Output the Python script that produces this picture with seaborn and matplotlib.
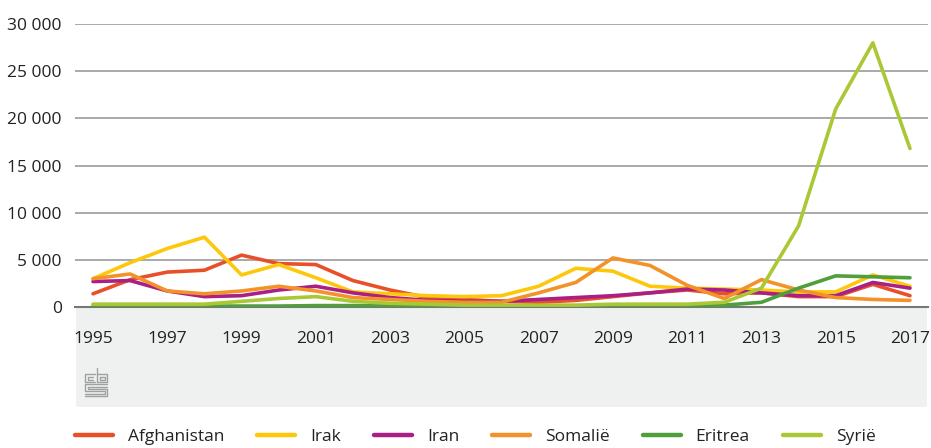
import pandas as pd
import matplotlib.pyplot as plt
import seaborn as sns
import numpy as np
from matplotlib.patches import FancyBboxPatch
from matplotlib.lines import Line2D
from matplotlib.ticker import FuncFormatter

# data (asielaanvragen per land)
years = list(range(1995, 2018))
afghanistan = [1400, 2900, 3700, 3900, 5500, 4600, 4500, 2800, 1800, 1000, 800, 600,
               500, 700, 1100, 1500, 1800, 1400, 1500, 1100, 1100, 2400, 1200]
irak = [3000, 4700, 6200, 7400, 3400, 4500, 3100, 1600, 1400, 1200, 1100, 1200,
        2200, 4100, 3800, 2200, 2000, 1900, 1800, 1600, 1600, 3400, 2200]
iran = [2700, 2800, 1700, 1100, 1200, 1800, 2200, 1500, 1000, 700, 600, 600,
        800, 1000, 1200, 1500, 1900, 1800, 1500, 1200, 1200, 2600, 2000]
somalie = [3000, 3500, 1700, 1400, 1700, 2200, 1700, 1000, 800, 600, 500, 500,
           1500, 2600, 5200, 4400, 2300, 900, 2900, 1800, 1000, 800, 700]
eritrea = [100, 100, 100, 100, 100, 100, 150, 150, 100, 100, 100, 100,
           100, 100, 100, 100, 100, 200, 500, 2000, 3300, 3200, 3100]
syrie = [300, 300, 300, 300, 600, 900, 1100, 600, 400, 300, 200, 200,
         200, 200, 300, 300, 300, 500, 2000, 8600, 21000, 28000, 16800]

landen = ['Afghanistan', 'Irak', 'Iran', 'Somalië', 'Eritrea', 'Syrië']
kleuren = ['#e8502a', '#fdc80c', '#aa1f86', '#f39228', '#4fa03c', '#aac836']

series = [afghanistan, irak, iran, somalie, eritrea, syrie]
df = pd.concat([pd.DataFrame({'jaar': years, 'aantal': s, 'land': n})
                for s, n in zip(series, landen)])

sns.set_style('white')
plt.rcParams['font.family'] = ['Open Sans', 'DejaVu Sans']

W, H = 931, 448
fig = plt.figure(figsize=(W / 100, H / 100), dpi=100)

def fx(px):
    return px / W

def fy(py):
    return 1 - py / H

ax = fig.add_axes([fx(75), fy(307), fx(928) - fx(75), fy(24) - fy(307)])

# grijs vlak onder de as
panel = FancyBboxPatch((fx(76), fy(407)), fx(927) - fx(76), fy(296) - fy(407),
                       boxstyle='round,pad=0,rounding_size=0.004',
                       transform=fig.transFigure, facecolor='#eff0f0',
                       edgecolor='none', zorder=-5)
fig.patches.append(panel)
ax.set_facecolor('white')

sns.lineplot(data=df, x='jaar', y='aantal', hue='land', hue_order=landen,
             palette=kleuren, linewidth=2.6, ax=ax, legend=False)

ax.set_xlim(1994.515, 2017.485)
ax.set_ylim(0, 30000)
ax.set_yticks(range(0, 30001, 5000))
ax.yaxis.set_major_formatter(FuncFormatter(lambda v, p: f'{int(v):,}'.replace(',', ' ')))
ax.set_xticks(range(1995, 2018, 2))
ax.grid(axis='y', color='#a3a3a3', linewidth=1.3)
ax.grid(axis='x', visible=False)
ax.set_axisbelow(True)
for s in ['top', 'right', 'left']:
    ax.spines[s].set_visible(False)
ax.spines['bottom'].set_color('#777777')
ax.spines['bottom'].set_linewidth(1.5)
ax.spines['bottom'].set_zorder(1.5)
ax.tick_params(axis='y', length=0, pad=9.5, labelsize=12.5, labelcolor='#222222')
ax.tick_params(axis='x', length=10, width=1, color='#cccccc', pad=7.5,
               labelsize=12.5, labelcolor='#222222')
ax.set_xlabel('')
ax.set_ylabel('')

# cbs-logo (eenvoudig nagetekend)
logo = [
    [(95, 374), (85, 374), (85, 382), (95, 382)],
    [(93, 376.5), (87.5, 376.5), (87.5, 379.5), (93, 379.5)],
    [(97, 368), (97, 382), (107, 382), (107, 374), (97, 374)],
    [(99.5, 376.5), (104.5, 376.5), (104.5, 379.5), (99.5, 379.5), (99.5, 376.5)],
    [(107, 384), (85, 384), (85, 391), (104.5, 391), (104.5, 393.5), (85, 393.5)],
    [(107, 386.5), (87.5, 386.5), (87.5, 388.5), (107, 388.5), (107, 396), (85, 396)],
]
for pts in logo:
    xs = [fx(p[0]) for p in pts]
    ys = [fy(p[1]) for p in pts]
    fig.add_artist(Line2D(xs, ys, transform=fig.transFigure, color='#a0a0a0', linewidth=1.0))

# legenda
handles = [Line2D([], [], color=c, linewidth=3.2) for c in kleuren]
fig.legend(handles, landen, loc='center left', bbox_to_anchor=(fx(68), fy(437)),
           ncol=6, frameon=False, fontsize=12.5, handlelength=2.2,
           handletextpad=0.85, columnspacing=1.9, borderaxespad=0,
           labelcolor='#222222')

fig.savefig('out.png', dpi=100)
